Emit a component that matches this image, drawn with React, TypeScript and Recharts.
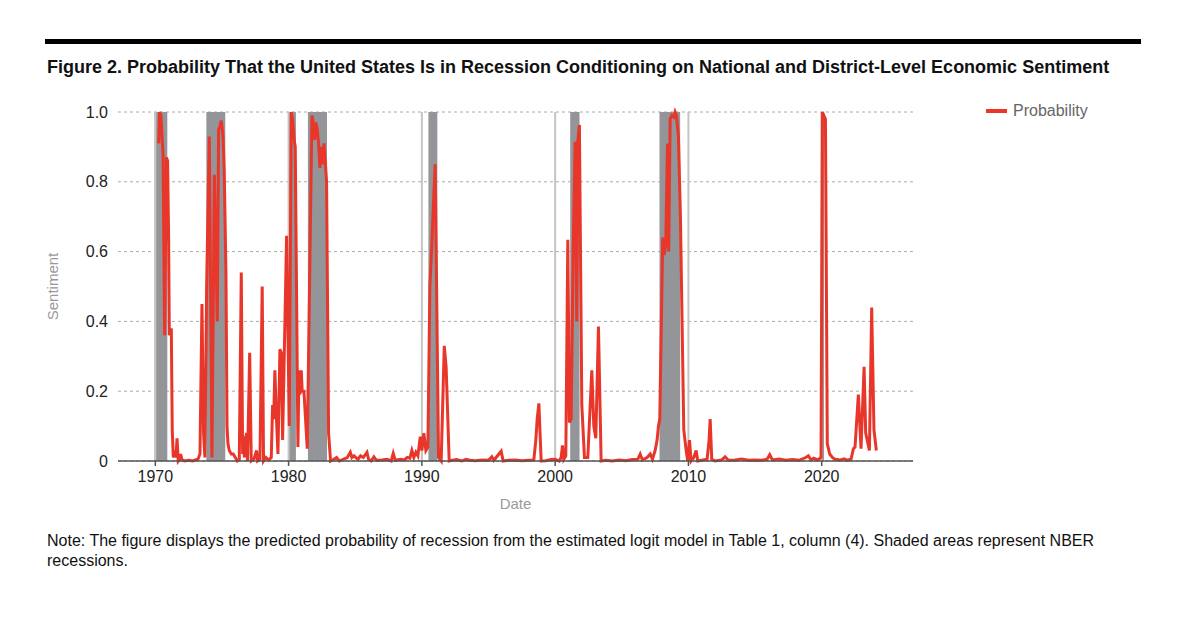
import React from "react";
import {
  LineChart,
  Line,
  XAxis,
  YAxis,
  CartesianGrid,
  ReferenceArea,
  ReferenceLine,
} from "recharts";

// [decimal year, probability]
const probabilityPoints: [number, number][] = [
  [1970.25, 0.91], [1970.32, 1.0], [1970.42, 0.99], [1970.5, 0.93], [1970.58, 0.88],
  [1970.7, 0.36], [1970.83, 0.87], [1970.92, 0.86], [1971.0, 0.63], [1971.05, 0.36],
  [1971.12, 0.37], [1971.2, 0.38], [1971.27, 0.09], [1971.35, 0.01], [1971.45, 0.03],
  [1971.55, 0.01], [1971.63, 0.065], [1971.72, 0.0], [1971.82, 0.005], [1971.9, 0.02],
  [1972.0, 0.003], [1972.2, 0.0], [1972.5, 0.002], [1972.8, 0.0], [1973.0, 0.003],
  [1973.2, 0.005], [1973.35, 0.02], [1973.5, 0.45], [1973.62, 0.08], [1973.72, 0.01],
  [1973.85, 0.5], [1974.05, 0.93], [1974.25, 0.01], [1974.43, 0.82], [1974.65, 0.4],
  [1974.75, 0.95], [1974.85, 0.96], [1974.95, 0.975], [1975.08, 0.93], [1975.17, 0.83],
  [1975.3, 0.54], [1975.38, 0.1], [1975.45, 0.05], [1975.55, 0.03], [1975.7, 0.02],
  [1975.85, 0.02], [1976.0, 0.01], [1976.15, 0.0], [1976.3, 0.005], [1976.45, 0.54],
  [1976.55, 0.02], [1976.62, 0.07], [1976.68, 0.01], [1976.75, 0.06], [1976.85, 0.08],
  [1976.92, 0.0], [1977.08, 0.31], [1977.2, 0.0], [1977.4, 0.005], [1977.6, 0.03],
  [1977.68, 0.0], [1977.85, 0.005], [1978.02, 0.5], [1978.12, 0.0], [1978.3, 0.01],
  [1978.5, 0.003], [1978.7, 0.01], [1978.8, 0.16], [1978.88, 0.12], [1978.97, 0.26],
  [1979.08, 0.13], [1979.2, 0.02], [1979.35, 0.32], [1979.45, 0.31], [1979.55, 0.06],
  [1979.85, 0.645], [1980.05, 0.1], [1980.2, 1.0], [1980.3, 0.98], [1980.42, 0.92],
  [1980.5, 0.9], [1980.7, 0.04], [1980.78, 0.26], [1980.85, 0.19], [1980.95, 0.26],
  [1981.02, 0.2], [1981.15, 0.2], [1981.4, 0.035], [1981.75, 0.99], [1981.85, 0.97],
  [1981.95, 0.92], [1982.05, 0.97], [1982.15, 0.95], [1982.25, 0.91], [1982.35, 0.84],
  [1982.45, 0.9], [1982.55, 0.85], [1982.65, 0.91], [1982.75, 0.86], [1982.85, 0.8],
  [1983.0, 0.08], [1983.15, 0.0], [1983.4, 0.005], [1983.6, 0.01], [1983.8, 0.0],
  [1984.1, 0.005], [1984.4, 0.01], [1984.63, 0.025], [1984.75, 0.01], [1984.9, 0.015],
  [1985.2, 0.005], [1985.4, 0.015], [1985.6, 0.01], [1985.88, 0.025], [1986.0, 0.005],
  [1986.2, 0.0], [1986.4, 0.012], [1986.6, 0.002], [1987.0, 0.003], [1987.4, 0.005],
  [1987.7, 0.0], [1987.85, 0.022], [1988.0, 0.002], [1988.4, 0.005], [1988.7, 0.003],
  [1988.9, 0.01], [1989.1, 0.008], [1989.25, 0.03], [1989.4, 0.01], [1989.55, 0.025],
  [1989.7, 0.015], [1989.88, 0.07], [1990.0, 0.03], [1990.15, 0.08], [1990.3, 0.03],
  [1990.45, 0.04], [1990.6, 0.5], [1990.75, 0.62], [1990.85, 0.72], [1991.0, 0.85],
  [1991.25, 0.01], [1991.45, 0.0], [1991.68, 0.33], [1991.82, 0.27], [1992.05, 0.0],
  [1992.3, 0.002], [1992.6, 0.004], [1993.0, 0.0], [1993.3, 0.005], [1993.6, 0.002],
  [1994.0, 0.001], [1994.5, 0.003], [1995.0, 0.002], [1995.25, 0.012], [1995.4, 0.002],
  [1995.95, 0.028], [1996.1, 0.0], [1996.5, 0.002], [1997.0, 0.003], [1997.5, 0.001],
  [1998.0, 0.002], [1998.4, 0.003], [1998.55, 0.06], [1998.65, 0.12], [1998.78, 0.165],
  [1998.95, 0.0], [1999.3, 0.001], [1999.7, 0.004], [2000.0, 0.005], [2000.3, 0.0],
  [2000.45, 0.01], [2000.55, 0.045], [2000.65, 0.005], [2000.8, 0.015], [2000.95, 0.634],
  [2001.07, 0.11], [2001.2, 0.12], [2001.35, 0.6], [2001.5, 0.915], [2001.62, 0.4],
  [2001.7, 0.915], [2001.82, 0.963], [2002.0, 0.16], [2002.2, 0.01], [2002.45, 0.01],
  [2002.75, 0.26], [2002.9, 0.1], [2003.05, 0.065], [2003.25, 0.385], [2003.45, 0.0],
  [2003.8, 0.002], [2004.3, 0.0], [2004.8, 0.003], [2005.3, 0.001], [2005.8, 0.004],
  [2006.2, 0.005], [2006.38, 0.02], [2006.55, 0.003], [2006.9, 0.01], [2007.13, 0.02],
  [2007.3, 0.005], [2007.5, 0.03], [2007.65, 0.06], [2007.75, 0.1], [2007.85, 0.12],
  [2008.07, 0.64], [2008.17, 0.59], [2008.3, 0.62], [2008.43, 0.91], [2008.52, 0.6],
  [2008.63, 0.98], [2008.75, 0.99], [2008.9, 0.985], [2009.0, 1.0], [2009.1, 0.99],
  [2009.25, 0.93], [2009.4, 0.7], [2009.65, 0.09], [2009.83, 0.03], [2009.95, 0.0],
  [2010.08, 0.06], [2010.2, 0.0], [2010.4, 0.01], [2010.58, 0.03], [2010.7, 0.0],
  [2011.0, 0.002], [2011.4, 0.005], [2011.55, 0.06], [2011.63, 0.12], [2011.75, 0.005],
  [2012.0, 0.0], [2012.5, 0.003], [2012.75, 0.012], [2013.0, 0.002], [2013.5, 0.003],
  [2014.0, 0.006], [2014.5, 0.002], [2015.0, 0.003], [2015.5, 0.002], [2015.9, 0.005],
  [2016.1, 0.018], [2016.3, 0.003], [2016.8, 0.006], [2017.3, 0.002], [2017.8, 0.004],
  [2018.3, 0.002], [2018.8, 0.01], [2019.0, 0.015], [2019.2, 0.003], [2019.4, 0.008],
  [2019.7, 0.003], [2019.95, 0.01], [2020.05, 1.0], [2020.28, 0.98], [2020.42, 0.05],
  [2020.6, 0.02], [2020.8, 0.01], [2021.0, 0.005], [2021.4, 0.003], [2021.7, 0.006],
  [2021.9, 0.002], [2022.2, 0.005], [2022.38, 0.035], [2022.5, 0.04], [2022.75, 0.19],
  [2022.95, 0.035], [2023.18, 0.27], [2023.3, 0.08], [2023.58, 0.03], [2023.75, 0.44],
  [2023.92, 0.09], [2024.1, 0.03],
];

// NBER recessions, as shaded in the figure
const recessionStarts = [1969.95, 1973.83, 1980.0, 1981.45, 1990.49, 2001.13, 2007.83, 2020.0];
const recessionEnds = [1970.9, 1975.25, 1980.55, 1982.88, 1991.16, 2001.83, 2009.38, 2020.17];

const yearTicks = [1970, 1980, 1990, 2000, 2010, 2020];
const sentimentTicks = [0, 0.2, 0.4, 0.6, 0.8, 1.0];

const data = probabilityPoints.map(([date, probability]) => ({ date, probability }));

const RED = "#E8372A";

export default function App() {
  return (
    <div
      style={{
        position: "absolute",
        left: 0,
        top: 0,
        width: 1200,
        height: 630,
        background: "#fff",
        fontFamily: "'Liberation Sans', Arial, sans-serif",
        color: "#111",
      }}
    >
      <div style={{ position: "absolute", left: 45, top: 39, width: 1096, height: 5, background: "#000" }} />
      <div style={{ position: "absolute", left: 47, top: 57, fontSize: 18, fontWeight: 700, whiteSpace: "nowrap" }}>
        Figure 2. Probability That the United States Is in Recession Conditioning on National and District-Level
        Economic Sentiment
      </div>

      <LineChart
        width={1200}
        height={630}
        data={data}
        margin={{ top: 112, right: 287, bottom: 139, left: 48 }}
        style={{ position: "absolute", left: 0, top: 0 }}
      >
        <CartesianGrid vertical={false} stroke="#aaa" strokeDasharray="3 3" />
        {yearTicks.map((y) => (
          <ReferenceLine key={y} x={y} stroke="#c4c4c4" strokeWidth={2} />
        ))}
        {recessionStarts.map((s, i) => (
          <ReferenceArea key={s} x1={s} x2={recessionEnds[i]} y1={0} y2={1} fill="#939598" fillOpacity={1} stroke="none" />
        ))}
        <XAxis
          dataKey="date"
          type="number"
          domain={[1967.2, 2026.85]}
          ticks={yearTicks}
          allowDataOverflow
          height={30}
          stroke="#555"
          strokeWidth={1.5}
          tickSize={5}
          tickMargin={5}
          tick={{ fill: "#222", fontSize: 16 }}
          label={{ value: "Date", position: "bottom", offset: 7, fill: "#999", fontSize: 15 }}
        />
        <YAxis
          type="number"
          domain={[0, 1]}
          ticks={sentimentTicks}
          width={70}
          axisLine={false}
          tickLine={false}
          tickMargin={4}
          tick={{ fill: "#222", fontSize: 16 }}
          tickFormatter={(v: number) => (v === 0 ? "0" : v.toFixed(1))}
          label={{
            value: "Sentiment",
            angle: -90,
            position: "insideLeft",
            offset: 5,
            fill: "#999",
            fontSize: 15,
            style: { textAnchor: "middle" },
          }}
        />
        <Line
          type="linear"
          dataKey="probability"
          stroke={RED}
          strokeWidth={3}
          dot={false}
          activeDot={false}
          isAnimationActive={false}
        />
      </LineChart>

      <div style={{ position: "absolute", left: 986, top: 109, width: 21, height: 4, background: RED }} />
      <div style={{ position: "absolute", left: 1013, top: 101, fontSize: 16, color: "#666", lineHeight: "20px" }}>
        Probability
      </div>

      <div style={{ position: "absolute", left: 47, top: 531, fontSize: 16, lineHeight: "20px", width: 1100 }}>
        Note: The figure displays the predicted probability of recession from the estimated logit model in Table 1,
        column (4). Shaded areas represent NBER
        <br />
        recessions.
      </div>
    </div>
  );
}
